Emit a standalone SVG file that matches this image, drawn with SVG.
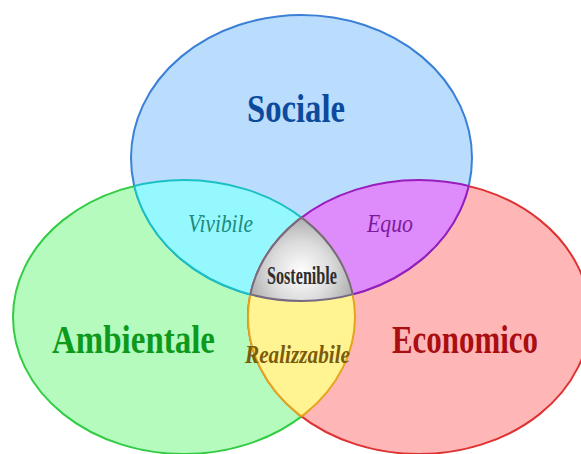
<svg xmlns="http://www.w3.org/2000/svg" width="581" height="454" viewBox="0 0 581 454">
<style>
.big{font-family:"Liberation Serif","DejaVu Serif",serif;font-weight:bold;font-size:41px}
.small{font-family:"Liberation Serif","DejaVu Serif",serif;font-size:25px}
</style>
<defs>
<ellipse id="eS" cx="301.5" cy="158" rx="170.5" ry="143"/>
<ellipse id="eA" cx="184" cy="317" rx="171" ry="137"/>
<ellipse id="eE" cx="419" cy="317" rx="171" ry="137"/>
<clipPath id="cS"><use href="#eS"/></clipPath>
<clipPath id="cA"><use href="#eA"/></clipPath>
<clipPath id="cE"><use href="#eE"/></clipPath>
<clipPath id="cSA" clip-path="url(#cS)"><use href="#eA"/></clipPath>
<clipPath id="cSE" clip-path="url(#cS)"><use href="#eE"/></clipPath>
<clipPath id="cAE" clip-path="url(#cA)"><use href="#eE"/></clipPath>
<radialGradient id="gray" cx="301" cy="272" r="60" gradientUnits="userSpaceOnUse">
<stop offset="0" stop-color="#ffffff"/>
<stop offset="0.5" stop-color="#dcdcdc"/>
<stop offset="1" stop-color="#a4a4a4"/>
</radialGradient>
</defs>
<rect width="581" height="454" fill="#ffffff"/>
<g id="ambientale">
<use href="#eA" fill="#b6fbbe" stroke="#33cc44" stroke-width="2"/>
</g>
<g id="economico">
<use href="#eE" fill="#ffb6b6" stroke="#dd3333" stroke-width="2"/>
</g>
<g id="sociale">
<use href="#eS" fill="#badcfd" stroke="#3a80d6" stroke-width="2"/>
</g>
<g id="vivibile">
<use href="#eA" clip-path="url(#cS)" fill="#96f8ff" stroke="#1cc0c4" stroke-width="2"/>
<use href="#eS" clip-path="url(#cA)" fill="none" stroke="#1cc0c4" stroke-width="2"/>
</g>
<g id="equo">
<use href="#eE" clip-path="url(#cS)" fill="#de8cfc" stroke="#9a1cbc" stroke-width="2"/>
<use href="#eS" clip-path="url(#cE)" fill="none" stroke="#9a1cbc" stroke-width="2"/>
</g>
<g id="realizzabile">
<use href="#eE" clip-path="url(#cA)" fill="#fff491" stroke="#e4a41c" stroke-width="2"/>
<use href="#eA" clip-path="url(#cE)" fill="none" stroke="#e4a41c" stroke-width="2"/>
</g>
<g id="sostenible">
<use href="#eE" clip-path="url(#cSA)" fill="url(#gray)" stroke="#766a82" stroke-width="2"/>
<use href="#eA" clip-path="url(#cSE)" fill="none" stroke="#766a82" stroke-width="2"/>
<use href="#eS" clip-path="url(#cAE)" fill="none" stroke="#766a82" stroke-width="2"/>
</g>
<g id="labels">
<text class="big" x="247" y="122" fill="#0b4a9c" textLength="98" lengthAdjust="spacingAndGlyphs">Sociale</text>
<text class="big" x="52" y="353" fill="#0d9a1c" textLength="163" lengthAdjust="spacingAndGlyphs">Ambientale</text>
<text class="big" x="392" y="353" fill="#a80e12" font-size="37" textLength="146" lengthAdjust="spacingAndGlyphs">Economico</text>
<text class="small" x="188" y="232" fill="#1a8a7e" font-style="italic" textLength="65" lengthAdjust="spacingAndGlyphs">Vivibile</text>
<text class="small" x="367" y="232" fill="#7c1a9c" font-style="italic" textLength="46" lengthAdjust="spacingAndGlyphs">Equo</text>
<text class="small" x="267" y="284" fill="#2e2e2e" font-weight="bold" textLength="70" lengthAdjust="spacingAndGlyphs">Sostenible</text>
<text class="small" x="245" y="363" fill="#7a5c0c" font-style="italic" font-weight="bold" textLength="105" lengthAdjust="spacingAndGlyphs">Realizzabile</text>
</g>
</svg>
